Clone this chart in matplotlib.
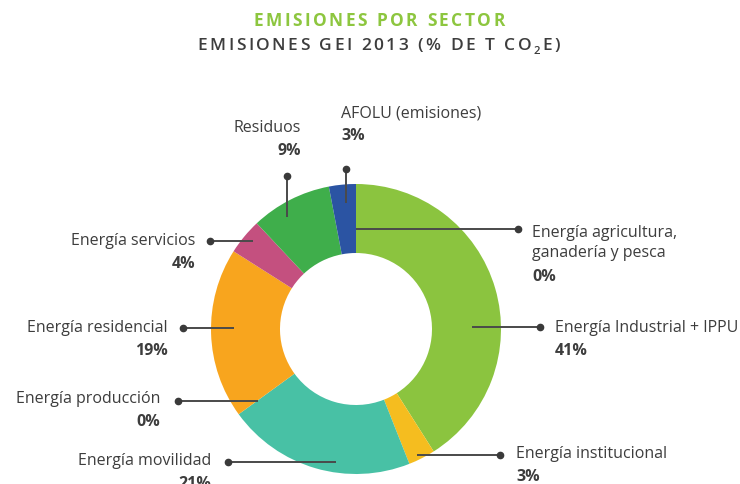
import matplotlib
matplotlib.use("Agg")
from matplotlib import pyplot as plt

plt.rcParams['font.family'] = ['Open Sans', 'DejaVu Sans']

# sectores en sentido horario desde las 12
sectores = ["Energía agricultura,\nganadería y pesca", "Energía Industrial + IPPU",
            "Energía institucional", "Energía movilidad", "Energía producción",
            "Energía residencial", "Energía servicios", "Residuos", "AFOLU (emisiones)"]
porcentajes = [0, 41, 3, 21, 0, 19, 4, 9, 3]
colores = ["#8bc43f", "#8bc43f", "#f5bd1f", "#48c1a5", "#f8a51e",
           "#f8a51e", "#c4507f", "#3fae4b", "#2b54a3"]

# posiciones de etiquetas (px, y hacia abajo): texto x, texto y, alineación, línea x0,y0 -> x1,y1 (punto)
etiquetas = [
    (532, 243, 'left', 356, 229, 518, 229),
    (555, 328, 'left', 472, 327, 540, 327),
    (516, 454, 'left', 417, 455, 500, 455),
    (211, 461, 'right', 336, 462, 228, 462),
    (160, 399, 'right', 258, 401, 178, 401),
    (168, 328, 'right', 234, 328, 183, 328),
    (195, 241, 'right', 253, 241, 210, 241),
    (301, 128, 'right', 287, 217, 287, 176),
    (341, 113, 'left', 346, 203, 346, 169),
]

W, H = 740, 484
fig = plt.figure(figsize=(W / 100, H / 100), dpi=100)
ax = fig.add_axes([0, 0, 1, 1])
ax.axis('off')

cx, cy, r_ext, r_int = 356, 329, 145, 76
ax.pie(porcentajes, colors=colores, startangle=90, counterclock=False,
       center=(cx, H - cy), radius=r_ext, normalize=True,
       wedgeprops=dict(width=r_ext - r_int, linewidth=0))
ax.set_xlim(0, W)
ax.set_ylim(0, H)
ax.set_aspect('equal')

gris = "#3d3d3d"
for nombre, pct, (tx, ty, ha, x0, y0, x1, y1) in zip(sectores, porcentajes, etiquetas):
    ax.plot([x0, x1], [H - y0, H - y1], color="#4a4a4a", lw=1.4, solid_capstyle='butt')
    ax.plot([x1], [H - y1], 'o', color="#3a3a3a", ms=4.5)
    nlin = nombre.count("\n")
    ax.text(tx, H - ty, nombre, ha=ha, va='center', fontsize=11.5, color=gris,
            linespacing=1.4)
    ax.text(tx, H - ty - 23 - nlin * 11, f"{pct}%", ha=ha, va='center', fontsize=11.5,
            color=gris, fontweight='bold')


# títulos con espaciado entre letras
renderer = fig.canvas.get_renderer()


def titulo_espaciado(partes, xc, yc, color, size, weight, track=2.4):
    piezas = []
    for ch, sub in partes:
        fs = size * 0.65 if sub else size
        dy = 6 if sub else 0
        t = fig.text(0, 1 - (yc + dy) / H, ch, ha='left', va='center', fontsize=fs,
                     fontweight=weight, color=color)
        w = size * 0.28 * 100 / 72 if ch == ' ' else t.get_window_extent(renderer).width
        piezas.append((t, w))
    total = sum(w for _, w in piezas) + track * (len(piezas) - 1)
    x = xc - total / 2
    for t, w in piezas:
        t.set_x(x / W)
        x += w + track


titulo_espaciado([(c, False) for c in "EMISIONES POR SECTOR"], 379, 21,
                 "#8dc63f", 12.5, 'bold')
subt = [(c, False) for c in "EMISIONES GEI 2013 (% DE T CO"] + [("2", True)] + \
       [(c, False) for c in "E)"]
titulo_espaciado(subt, 379, 46, "#3d3d3d", 12.5, 'semibold')

fig.savefig("out.png", dpi=100)
